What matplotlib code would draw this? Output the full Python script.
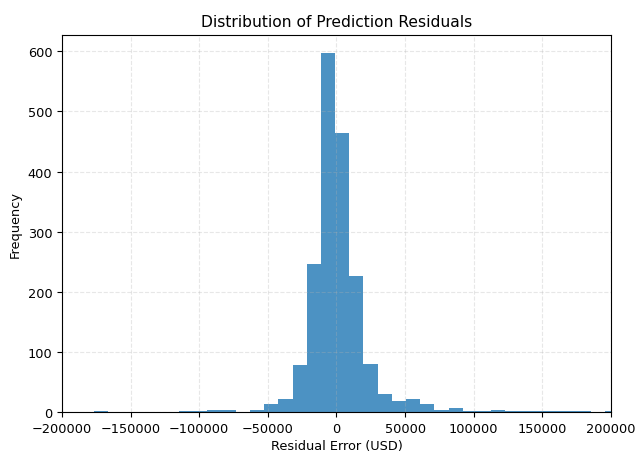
import matplotlib
matplotlib.use("Agg")
import matplotlib.pyplot as plt
import numpy as np

# histogram bins (USD)
bin_start = -176800
bin_width = 10340
counts = [1, 0, 0, 0, 0, 0, 2, 1, 3, 3, 0, 4, 13, 21, 78, 246, 598, 464,
          226, 80, 30, 19, 21, 13, 4, 6, 2, 1, 4, 1, 1, 1, 1, 1, 1, 0, 1]

edges = bin_start + bin_width * np.arange(len(counts) + 1)
centers = (edges[:-1] + edges[1:]) / 2

plt.rcParams["font.size"] = 9.3

fig = plt.figure(figsize=(6.35, 4.52), dpi=100)
ax = fig.add_axes([0.0976, 0.0863, 0.8646, 0.835])
ax.hist(centers, bins=edges, weights=counts, color="#1f77b4", alpha=0.8)
ax.set_xlim(-200000, 200000)
ax.set_title("Distribution of Prediction Residuals", fontsize=11.2)
ax.set_xlabel("Residual Error (USD)", labelpad=3)
ax.set_ylabel("Frequency")
ax.grid(True, linestyle="--", alpha=0.3)
fig.savefig("out.png", dpi=100)
